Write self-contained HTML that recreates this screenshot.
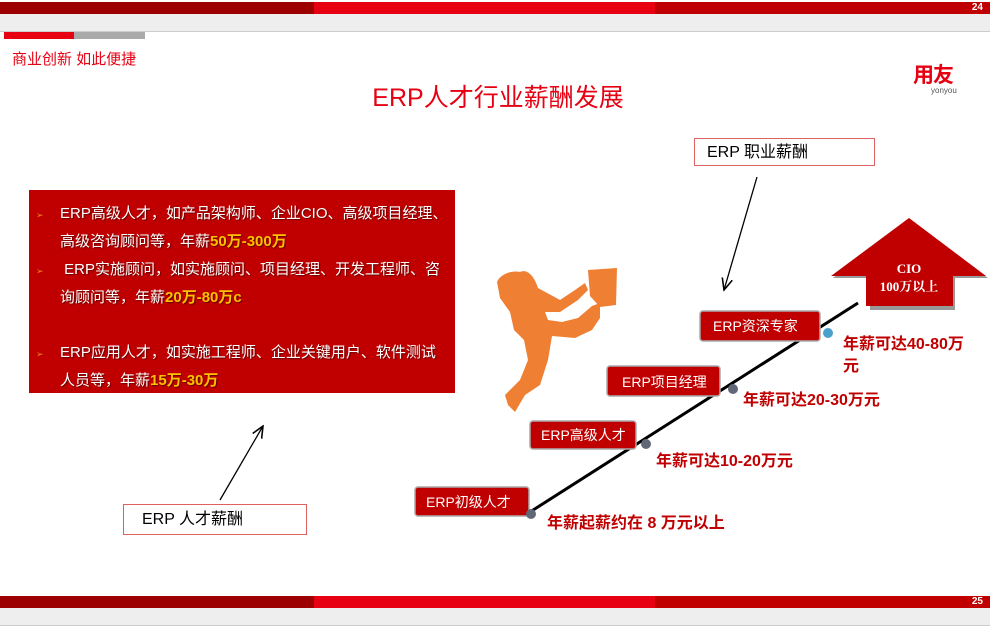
<!DOCTYPE html>
<html><head><meta charset="utf-8"><style>
body{margin:0;width:990px;height:626px;overflow:hidden;background:#fff;font-family:"Liberation Sans","Noto Sans CJK SC",sans-serif;position:relative}
.a{position:absolute}
.bar{position:absolute;height:12px}
.li{position:absolute;left:60px;color:#fff;font-size:15px;white-space:nowrap;text-shadow:1px 1px 1px #600}
.y{color:#ffc000;font-weight:bold}
.bul{position:absolute;left:36px;color:#f08020;font-size:9px}
</style></head><body>
<div class="bar" style="top:2px;left:0;width:314px;background:#9c0000"></div>
<div class="bar" style="top:2px;left:314px;width:341px;background:#e60012"></div>
<div class="bar" style="top:2px;left:655px;width:335px;background:#c00000"></div>
<div class="a" style="top:14px;left:0;width:990px;height:17px;background:#eee;border-bottom:1px solid #ccc"></div>
<div class="a" style="top:2px;right:7px;color:#fff;font-size:10px;font-weight:bold;line-height:12px">24</div>
<div class="a" style="top:32px;left:4px;width:70px;height:7px;background:#e60012"></div>
<div class="a" style="top:32px;left:74px;width:71px;height:7px;background:#aaa"></div>
<div class="a" style="top:48px;left:12px;color:#e60012;font-size:15px">商业创新 如此便捷</div>
<div class="a" style="top:59px;left:913px;color:#e60012;font-size:21px;font-weight:bold;letter-spacing:-1px">用友</div>
<div class="a" style="top:86px;left:931px;color:#555;font-size:8px">yonyou</div>
<div class="a" style="top:78px;left:0;width:996px;text-align:center;color:#e60012;font-size:25px">ERP人才行业薪酬发展</div>

<div class="a" style="top:190px;left:29px;width:426px;height:203px;background:#c00000"></div>
<div class="bul" style="top:210px">➢</div>
<div class="li" style="top:202px">ERP高级人才，如产品架构师、企业CIO、高级项目经理、</div>
<div class="li" style="top:230px">高级咨询顾问等，年薪<span class="y">50万-300万</span></div>
<div class="bul" style="top:266px">➢</div>
<div class="li" style="top:258px">&nbsp;ERP实施顾问，如实施顾问、项目经理、开发工程师、咨</div>
<div class="li" style="top:286px">询顾问等，年薪<span class="y">20万-80万c</span></div>
<div class="bul" style="top:349px">➢</div>
<div class="li" style="top:341px">ERP应用人才，如实施工程师、企业关键用户、软件测试</div>
<div class="li" style="top:369px">人员等，年薪<span class="y">15万-30万</span></div>

<div class="a" style="top:138px;left:694px;width:181px;height:28px;border:1px solid #e06060;box-sizing:border-box;font-size:16px;line-height:27px;padding-left:12px">ERP 职业薪酬</div>
<div class="a" style="top:504px;left:123px;width:184px;height:31px;border:1px solid #e06060;box-sizing:border-box;font-size:16px;line-height:30px;padding-left:18px">ERP 人才薪酬</div>

<svg class="a" style="top:0;left:0" width="990" height="626">
<defs><marker id="m" markerWidth="10" markerHeight="10" refX="9" refY="5" orient="auto"><path d="M0,1 L9,5 L0,9" fill="none" stroke="#000" stroke-width="1.2"/></marker></defs>
<line x1="757" y1="177" x2="724" y2="290" stroke="#000" stroke-width="1.3" marker-end="url(#m)"/>
<line x1="220" y1="500" x2="263" y2="426" stroke="#000" stroke-width="1.3" marker-end="url(#m)"/>
<g fill="#ef7f32">
<path d="M497,282 C500,274 512,270 520,272 C528,268 535,278 538,288 L560,300 L575,290 L585,283 L588,290 L578,300 L560,312 L545,312 L548,320 L562,322 L578,318 L592,306 L600,303 L600,318 L592,330 L575,338 L552,336 L548,360 L540,385 L525,395 L515,412 L508,405 L505,395 L520,380 L528,360 L524,340 L514,330 L510,312 L500,298 Z"/>
<path d="M588,270 L617,268 L616,305 L600,307 L590,296 Z"/>
</g>
<path d="M831,276 L909,218 L986,276 L953,276 L953,308 L868,308 L868,276 Z" fill="#999" transform="translate(2,2)"/>
<path d="M831,276 L909,218 L986,276 L953,276 L953,306 L866,306 L866,276 Z" fill="#c00000"/>
<text x="909" y="273" fill="#fff" font-family="Liberation Serif,serif" font-size="13" font-weight="bold" text-anchor="middle">CIO</text>
<text x="909" y="291" fill="#fff" font-family="Liberation Serif,'Noto Serif CJK SC',serif" font-size="13" font-weight="bold" text-anchor="middle">100万以上</text>
<line x1="530" y1="512" x2="858" y2="303" stroke="#000" stroke-width="3"/>
<g fill="#c00000" stroke="#aaa" stroke-width="1.5">
<rect x="415" y="487" width="114" height="29" rx="3"/>
<rect x="530" y="421" width="106" height="28" rx="3"/>
<rect x="607" y="366" width="113" height="30" rx="3"/>
<rect x="700" y="311" width="120" height="30" rx="3"/>
</g>
<g fill="#fff" font-size="14">
<text x="426" y="507">ERP初级人才</text>
<text x="541" y="440">ERP高级人才</text>
<text x="622" y="387">ERP项目经理</text>
<text x="713" y="331">ERP资深专家</text>
</g>
<g fill="#606878"><circle cx="531" cy="514" r="5"/><circle cx="646" cy="444" r="5"/><circle cx="733" cy="389" r="5"/></g>
<circle cx="828" cy="333" r="5" fill="#4aa0cc"/>
<g fill="#c00000" font-size="16" font-weight="bold">
<text x="547" y="528">年薪起薪约在 8 万元以上</text>
<text x="656" y="466">年薪可达10-20万元</text>
<text x="743" y="405">年薪可达20-30万元</text>
<text x="843" y="349">年薪可达40-80万</text>
<text x="843" y="371">元</text>
</g>
</svg>

<div class="bar" style="top:596px;left:0;width:314px;background:#9c0000"></div>
<div class="bar" style="top:596px;left:314px;width:341px;background:#e60012"></div>
<div class="bar" style="top:596px;left:655px;width:335px;background:#c00000"></div>
<div class="a" style="top:608px;left:0;width:990px;height:17px;background:#eee;border-bottom:1px solid #ccc"></div>
<div class="a" style="top:596px;right:7px;color:#fff;font-size:10px;font-weight:bold;line-height:12px">25</div>
</body></html>
